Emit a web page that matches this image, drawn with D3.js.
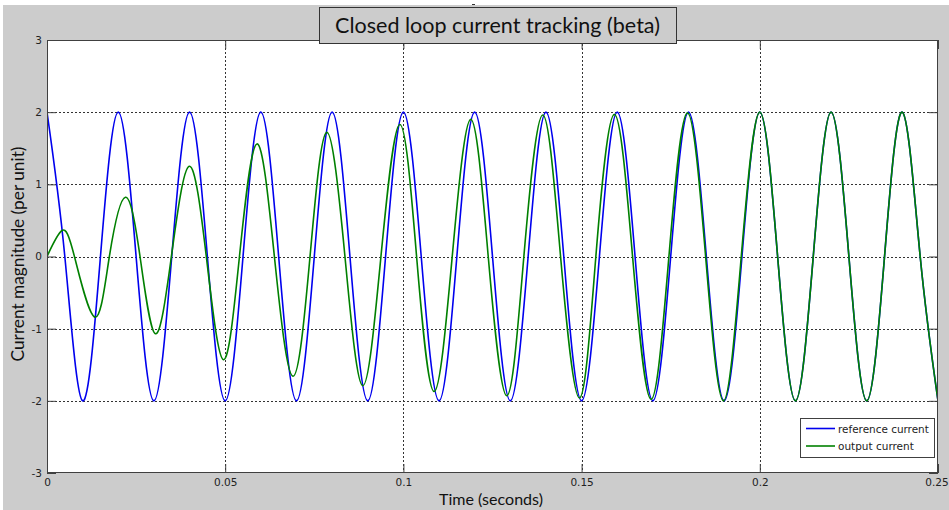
<!DOCTYPE html>
<html><head><meta charset="utf-8">
<script src="https://cdn.jsdelivr.net/npm/d3@7"></script>
<style>html,body{margin:0;padding:0;background:#fff;overflow:hidden}</style>
</head><body><svg id="c" width="949" height="510"></svg>
<script>
// ---- data ----
const refTime = [0,0.005,0.01,0.015,0.02,0.025,0.03,0.035,0.04,0.045,0.05,0.055,0.06,0.065,0.07,0.075,0.08,0.085,0.09,0.095,0.1,0.105,0.11,0.115,0.12,0.125,0.13,0.135,0.14,0.145,0.15,0.155,0.16,0.165,0.17,0.175,0.18,0.185,0.19,0.195,0.2,0.205,0.21,0.215,0.22,0.225,0.23,0.235,0.24,0.245,0.25];
const refValue = [2,0,-2,0,2,0,-2,0,2,0,-2,0,2,0,-2,0,2,0,-2,0,2,0,-2,0,2,0,-2,0,2,0,-2,0,2,0,-2,0,2,0,-2,0,2,0,-2,0,2,0,-2,0,2,0,-2];
const outTime = [0,0.0042,0.0077,0.0134,0.0175,0.0220,0.0261,0.0304,0.0349,0.0399,0.0447,0.0495,0.0540,0.0589,0.0638,0.0690,0.0738,0.0785,0.0836,0.0886,0.0937,0.0990,0.1037,0.1086,0.1137,0.1189,0.1238,0.1290,0.1338,0.1391,0.1441,0.1494,0.1540,0.1592,0.1643,0.1695,0.1745,0.1797,0.1848,0.1898,0.1948,0.2,0.205,0.21,0.215,0.22,0.225,0.23,0.235,0.24,0.245,0.25];
const outValue = [0,0.36,0,-0.84,0,0.82,0,-1.07,0,1.25,0,-1.43,0,1.56,0,-1.66,0,1.72,0,-1.79,0,1.83,0,-1.87,0,1.90,0,-1.93,0,1.96,0,-1.96,0,1.97,0,-1.98,0,1.99,0,-2.0,0,2.0,0,-2,0,2,0,-2,0,2,0,-2];
const xTicks = [0,0.05,0.1,0.15,0.2,0.25];
const xTickLabels = ["0","0.05","0.1","0.15","0.2","0.25"];
const yTicks = [-3,-2,-1,0,1,2,3];
const yTickLabels = ["-3","-2","-1","0","1","2","3"];
const seriesNames = ["reference current","output current"];
const titleText = "Closed loop current tracking (beta)";
const xLabel = "Time (seconds)";
const yLabel = "Current magnitude (per unit)";

// ---- drawing ----
const svg = d3.select("#c");
const L=47,R=938,T=40,B=473;
const x = d3.scaleLinear().domain([0,0.25]).range([L,R]);
const y = d3.scaleLinear().domain([-3,3]).range([B,T]);
const tickFont = "'DejaVu Sans', Tahoma, sans-serif";
const labelFont = "Lato, 'Open Sans', sans-serif";

function fit(sel, w){ const n=sel.node(); const cur=n.getComputedTextLength(); const fs=parseFloat(sel.attr("font-size")); sel.attr("font-size", fs*w/cur); }

svg.append("rect").attr("x",3).attr("y",5).attr("width",946).attr("height",505).attr("fill","#cccccc");
svg.append("rect").attr("x",L).attr("y",T).attr("width",R-L).attr("height",B-T).attr("fill","#fff");

// grid
const grid = svg.append("g").attr("stroke","#333").attr("stroke-width",1).attr("stroke-dasharray","2,2").attr("shape-rendering","crispEdges");
grid.selectAll("line.vx").data(xTicks.slice(1,-1)).join("line")
  .attr("x1",d=>Math.round(x(d))+0.5).attr("x2",d=>Math.round(x(d))+0.5).attr("y1",T).attr("y2",B);
grid.selectAll("line.hy").data(yTicks.slice(1,-1)).join("line")
  .attr("y1",d=>Math.round(y(d))+0.5).attr("y2",d=>Math.round(y(d))+0.5).attr("x1",L).attr("x2",R);

// axes via d3 axis with inward ticks
const axStyle = g => { g.selectAll(".domain").remove(); g.selectAll(".tick line").attr("stroke","#404040"); g.selectAll("text").attr("fill","#222").attr("font-family",tickFont).attr("font-size",10.5); };
const gx = svg.append("g").attr("transform",`translate(0,${B})`)
  .call(d3.axisBottom(x).tickValues(xTicks).tickFormat((d,i)=>xTickLabels[i]).tickSizeInner(-9).tickSizeOuter(0).tickPadding(6))
  .call(axStyle);
gx.selectAll(".tick text").filter((d,i)=>i===xTicks.length-1).attr("dx",-1.5);
svg.append("g").attr("transform",`translate(0,${T})`)
  .call(d3.axisTop(x).tickValues(xTicks).tickFormat("").tickSizeInner(-9).tickSizeOuter(0)).call(axStyle);
svg.append("g").attr("transform",`translate(${L},0)`)
  .call(d3.axisLeft(y).tickValues(yTicks).tickFormat((d,i)=>yTickLabels[i]).tickSizeInner(-9).tickSizeOuter(0).tickPadding(5))
  .call(axStyle);
svg.append("g").attr("transform",`translate(${R},0)`)
  .call(d3.axisRight(y).tickValues(yTicks).tickFormat("").tickSizeInner(-9).tickSizeOuter(0)).call(axStyle);

// lines
svg.append("clipPath").attr("id","pc").append("rect").attr("x",L).attr("y",T-2).attr("width",R-L).attr("height",B-T+4);
const line = d3.line().x(d=>x(d[0])).y(d=>y(d[1])).curve(d3.curveNatural);
const refData = refTime.map((t,i)=>[t,refValue[i]]);
const outData = outTime.map((t,i)=>[t,outValue[i]]);
const colors = ["#0000ee","#008000"];
svg.append("path").datum(refData).attr("d",line).attr("fill","none").attr("stroke",colors[0]).attr("stroke-width",1.6).attr("clip-path","url(#pc)");
svg.append("path").datum(outData).attr("d",line).attr("fill","none").attr("stroke",colors[1]).attr("stroke-width",1.6).attr("clip-path","url(#pc)");

// box
svg.append("rect").attr("x",L+0.5).attr("y",T+0.5).attr("width",R-L-1).attr("height",B-T-1).attr("fill","none").attr("stroke","#404040").attr("stroke-width",1);

// legend
const lg = svg.append("g");
lg.append("rect").attr("x",800.5).attr("y",418.5).attr("width",134).attr("height",39).attr("fill","#fff").attr("stroke","#404040");
seriesNames.forEach((n,i)=>{
  const yy = 428.5 + i*17.5;
  lg.append("line").attr("x1",806).attr("x2",835).attr("y1",yy).attr("y2",yy).attr("stroke",colors[i]).attr("stroke-width",1.6);
  const t = lg.append("text").attr("x",838).attr("y",yy+4).attr("font-family",tickFont).attr("font-size",10.5).attr("fill","#222").text(n);
  fit(t, i===0?91:76);
});

// title box
svg.append("rect").attr("x",319.5).attr("y",7.5).attr("width",357).attr("height",36).attr("fill","#cccccc").attr("stroke","#333");
svg.append("rect").attr("x",472).attr("y",4).attr("width",3).attr("height",1).attr("fill","#333");
const tt = svg.append("text").attr("x",497.5).attr("y",33).attr("text-anchor","middle").attr("font-family",labelFont).attr("font-size",22).attr("fill","#111").text(titleText);
fit(tt,325);

// axis labels
const xl = svg.append("text").attr("x",491).attr("y",505).attr("text-anchor","middle").attr("font-family",labelFont).attr("font-size",16).attr("fill","#111").text(xLabel);
fit(xl,104);
const yl = svg.append("text").attr("transform","translate(24,254) rotate(-90)").attr("text-anchor","middle").attr("font-family",labelFont).attr("font-size",16).attr("fill","#111").text(yLabel);
fit(yl,215);
</script></body></html>
